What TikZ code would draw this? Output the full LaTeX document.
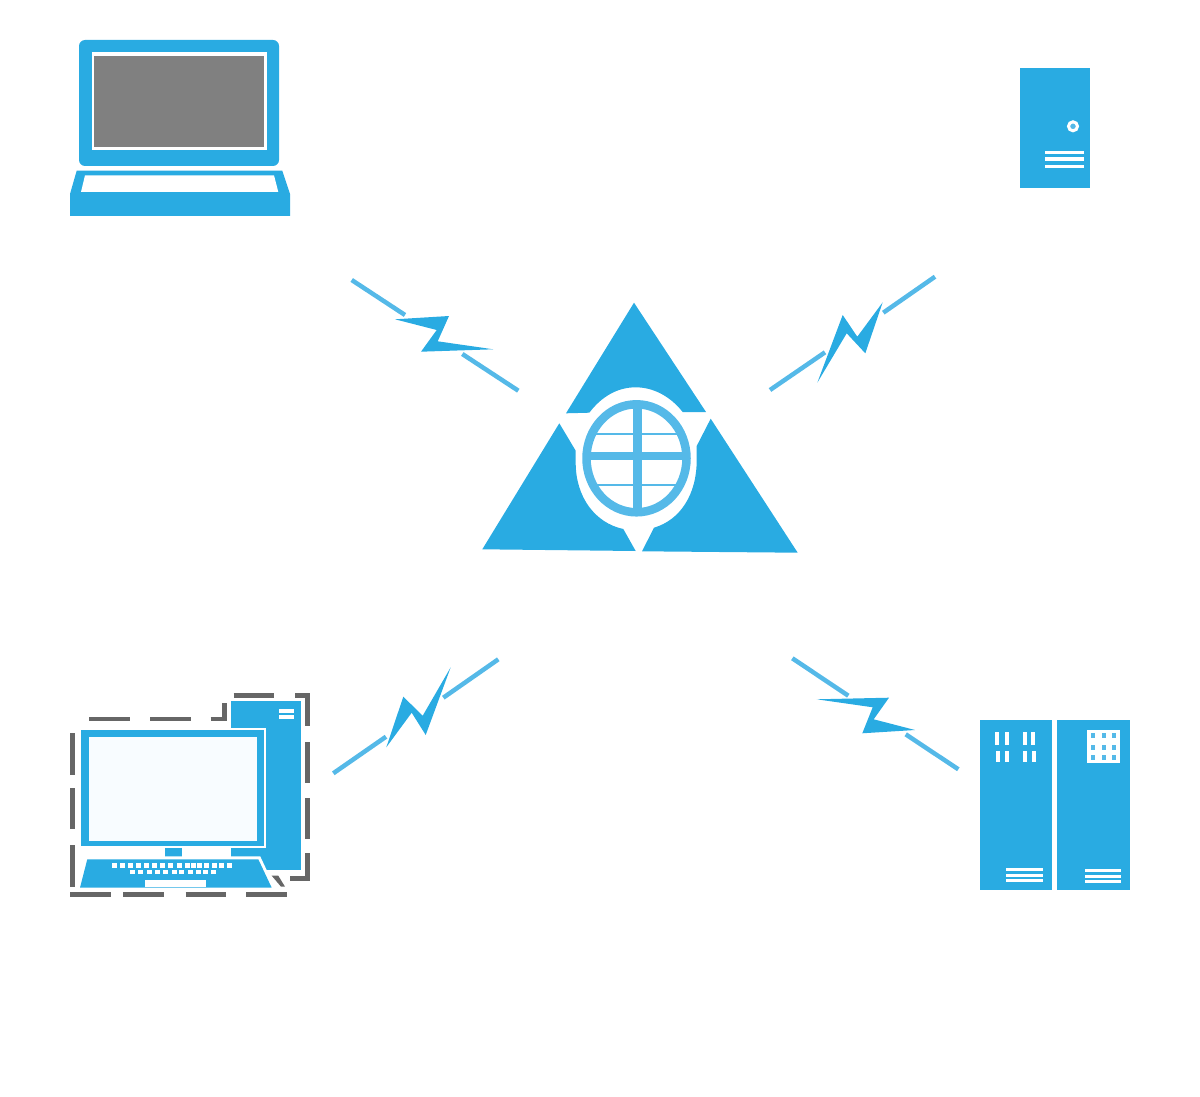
\documentclass[tikz,border=0pt]{standalone}
\usepackage{xcolor}
\definecolor{iconblue}{HTML}{29ABE2}
\definecolor{linkblue}{HTML}{55B9E8}
\definecolor{dashgray}{HTML}{666666}
\definecolor{screengray}{HTML}{808080}
\definecolor{screenpale}{HTML}{F8FCFF}
\tikzset{
  icon/.style={fill=iconblue},
  cutout/.style={fill=white},
  link/.style={draw=linkblue, line width=0.45mm},
  bolt/.style={fill=iconblue},
  groupdash/.style={draw=dashgray, line width=0.48mm},
  stripe/.style={draw=white, line width=0.32mm}
}

\begin{document}
\begin{tikzpicture}[x=0.01cm, y=-0.01cm]
        \useasboundingbox (0, 0) rectangle (1200, 1097);
        \coordinate (LaptopLinkA) at (351.7, 280);
        \coordinate (LaptopLinkB) at (405, 315);
        \coordinate (LaptopLinkC) at (462.3, 354);
        \coordinate (LaptopLinkD) at (518.3, 390.7);
        \coordinate (TowerLinkA) at (770, 390);
        \coordinate (TowerLinkB) at (825, 352.3);
        \coordinate (TowerLinkC) at (883.3, 312.7);
        \coordinate (TowerLinkD) at (935, 276.7);
        \coordinate (DesktopLinkA) at (333.3, 773.3);
        \coordinate (DesktopLinkB) at (386, 736.7);
        \coordinate (DesktopLinkC) at (443.3, 697.7);
        \coordinate (DesktopLinkD) at (498.3, 659.3);
        \coordinate (RackLinkA) at (792.3, 658.3);
        \coordinate (RackLinkB) at (848.3, 695.7);
        \coordinate (RackLinkC) at (905.7, 734.3);
        \coordinate (RackLinkD) at (958.3, 769.3);

        % links and bolts
        \draw[link] (LaptopLinkA) -- (LaptopLinkB);
        \draw[link] (LaptopLinkC) -- (LaptopLinkD);
        \draw[link] (TowerLinkA) -- (TowerLinkB);
        \draw[link] (TowerLinkC) -- (TowerLinkD);
        \draw[link] (DesktopLinkA) -- (DesktopLinkB);
        \draw[link] (DesktopLinkC) -- (DesktopLinkD);
        \draw[link] (RackLinkA) -- (RackLinkB);
        \draw[link] (RackLinkC) -- (RackLinkD);
        \fill[bolt] (395, 319.3) -- (449, 316) -- (437.7, 341.3) -- (493.3, 349.3) -- (421, 351.7) -- (436.7, 330) -- cycle;
        \fill[bolt] (817.3, 382.7) -- (842.7, 315) -- (857.3, 336.7) -- (882.7, 302.3) -- (865.3, 353.3) -- (846.7, 333.3) -- cycle;
        \fill[bolt] (386.3, 747.3) -- (403.3, 696.7) -- (422.7, 715.7) -- (450.7, 667.3) -- (425.7, 735) -- (411.7, 712.7) -- cycle;
        \fill[bolt] (816.7, 699.3) -- (889, 697.7) -- (873.7, 719.3) -- (915, 730) -- (862.3, 733.3) -- (872.7, 707.3) -- cycle;

        % centre triangle
        \fill[icon] (634, 302.7) -- (706, 412) -- (682.7, 412) .. controls (670, 396) and (653, 387.3) .. (635.7, 387.3)
            .. controls (618, 387.3) and (602, 396) .. (589.3, 412.7) -- (566, 413.3) -- cycle;
        \fill[icon] (559.3, 423.3) -- (575.7, 450.7) -- (575.7, 463) .. controls (575.7, 497) and (595, 523) .. (623.3, 529)
            -- (635.7, 551) -- (482.3, 549.3) -- cycle;
        \fill[icon] (710.7, 418.7) -- (696.7, 446) -- (696.7, 460) .. controls (696.7, 495) and (680, 520) .. (654, 527.7)
            -- (642, 551.3) -- (797.7, 552.7) -- cycle;
        \begin{scope}
            \clip (636.5, 458.3) ellipse (50 and 54);
            \fill[linkblue] (633.3, 400) rectangle (642, 517);
            \fill[linkblue] (582, 452) rectangle (691, 459.7);
            \fill[linkblue] (582, 433) rectangle (691, 434.6);
            \fill[linkblue] (582, 484) rectangle (691, 485.6);
        \end{scope}
        \draw[linkblue, line width=0.85mm] (636.5, 458.3) ellipse (50 and 54);

        % laptop
        \fill[icon, rounded corners=0.06cm] (79, 40) rectangle (279, 166);
        \fill[cutout] (92, 52.3) rectangle (266.7, 150);
        \fill[screengray] (94.3, 55.7) rectangle (264.3, 146.7);
        \fill[icon] (76.7, 170.7) -- (282.3, 170.7) -- (290, 194) -- (290, 216) -- (70, 216) -- (70, 194) -- cycle;
        \fill[cutout] (85, 175.3) -- (274, 175.3) -- (278.3, 192) -- (81, 192) -- cycle;

        % small tower
        \fill[icon] (1020, 68) rectangle (1090, 188);
        \draw[white, fill=linkblue, line width=0.3mm] (1073, 126.3) circle (4.5);
        \foreach \y in {152.3, 159, 166.7}
            \draw[stripe] (1045, \y) -- (1083.5, \y);

        % rack pair
        \fill[icon] (980, 720) rectangle (1052, 890);
        \fill[icon] (1057, 720) rectangle (1130, 890);
        \foreach \x in {995, 1005, 1023, 1031}
            \fill[cutout] (\x, 732) rectangle (\x + 4, 745.3);
        \foreach \x in {996, 1005, 1023, 1032}
            \fill[cutout] (\x, 751.3) rectangle (\x + 4, 762.3);
        \foreach \y in {869.3, 875.3, 880.3}
            \draw[stripe] (1006, \y) -- (1043, \y);
        \foreach \y in {870.7, 876.7, 881.7}
            \draw[stripe] (1085, \y) -- (1121, \y);
        \fill[cutout] (1087, 730.3) rectangle (1120, 762.7);
        \foreach \x in {1091, 1102, 1112}
            \foreach \y in {733, 745, 755}
                \fill[linkblue] (\x, \y) rectangle (\x + 4, \y + 5);

        % desktop
        \fill[icon] (231, 701) rectangle (300.7, 870);
        \foreach \y in {711, 717}
            \draw[stripe] (279, \y) -- (293.7, \y);
        \fill[icon, draw=white, line width=0.2mm] (80, 728.5) rectangle (265, 846.5);
        \fill[screenpale] (89, 736.7) rectangle (256.7, 841.3);
        \fill[cutout] (165, 847.5) rectangle (231, 857);
        \fill[icon] (165, 847.7) rectangle (182.3, 857.3);
        \draw[white, line width=0.6mm] (87.3, 859.3) -- (258.3, 859.3) -- (271.7, 887.7);
        \fill[icon] (87.3, 859.3) -- (258.3, 859.3) -- (271.7, 887.7) -- (80, 887.7) -- cycle;
        \foreach \x in {111.7, 119.7, 128, 136, 143.7, 152, 160.3, 168.3, 177, 184.7, 190.7, 197.3, 204, 212, 219, 227}
            \fill[cutout] (\x, 863.3) rectangle (\x + 5, 867.7);
        \foreach \x in {130, 138.3, 146.7, 155, 163.3, 171.7, 179.3, 187.7, 195.7, 203.3, 210.7}
            \fill[cutout] (\x, 870.3) rectangle (\x + 5, 874.3);
        \fill[cutout] (145, 880.3) rectangle (206, 886.7);

        % dashed group outline
        \foreach \a/\b in {89.3/130, 150/190.7}
            \draw[groupdash] (\a, 719) -- (\b, 719);
        \draw[groupdash] (210.7, 719) -- (224.7, 719) -- (224.7, 702.7);
        \draw[groupdash] (233.7, 695.3) -- (273.7, 695.3);
        \draw[groupdash] (295, 695.3) -- (307.7, 695.3) -- (307.7, 726);
        \foreach \a/\b in {742.3/783.3, 798.3/839.3}
            \draw[groupdash] (307.7, \a) -- (307.7, \b);
        \draw[groupdash] (307.7, 853.3) -- (307.7, 878.3) -- (290, 878.3);
        \fill[dashgray] (271.7, 875.7) -- (278.3, 875.7) -- (285, 886.7) -- (281, 886.7) -- cycle;
        \foreach \a/\b in {70/111, 123/163.7, 185.7/226, 246.3/287}
            \draw[groupdash] (\a, 894.7) -- (\b, 894.7);
        \foreach \a/\b in {733.3/774.7, 788.3/829.3, 845/886.7}
            \draw[groupdash] (72.3, \a) -- (72.3, \b);
\end{tikzpicture}
\end{document}
